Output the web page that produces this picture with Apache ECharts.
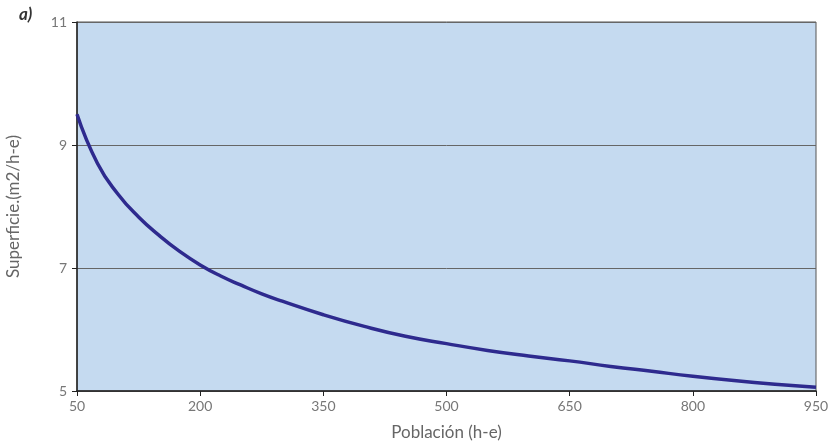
<!DOCTYPE html>
<html>
<head>
<meta charset="utf-8">
<script src="https://cdn.jsdelivr.net/npm/echarts@6/dist/echarts.min.js"></script>
<style>
html,body{margin:0;padding:0;background:#fff;}
#chart{width:831px;height:444px;}
</style>
</head>
<body>
<div id="chart"></div>
<script>
const poblacion = [50, 75, 100, 125, 150, 175, 200, 225, 250, 275, 300, 350, 400, 450, 500, 550, 600, 650, 700, 750, 800, 850, 900, 950];
const superficie = [9.5, 8.7, 8.2, 7.83, 7.53, 7.27, 7.05, 6.87, 6.72, 6.58, 6.46, 6.24, 6.05, 5.89, 5.77, 5.66, 5.57, 5.49, 5.40, 5.32, 5.24, 5.17, 5.11, 5.06];
const xTicks = [50, 200, 350, 500, 650, 800, 950];
const yTicks = [5, 7, 9, 11];

const chart = echarts.init(document.getElementById('chart'));
const labelFont = { color: '#777', fontFamily: 'Lato', fontSize: 14 };
chart.setOption({
  animation: false,
  backgroundColor: '#fff',
  title: {
    text: 'a)', left: 14, top: 1,
    textStyle: { fontSize: 17, fontStyle: 'italic', fontWeight: 'bold', color: '#333', fontFamily: 'Lato' }
  },
  grid: {
    left: 77, right: 15, top: 22, bottom: 53,
    outerBoundsMode: 'none', containLabel: false,
    show: true, backgroundColor: '#c5daf0', borderColor: '#555', borderWidth: 1
  },
  xAxis: {
    type: 'value', min: 50, max: 950,
    name: 'Población (h-e)', nameLocation: 'middle', nameGap: 33,
    nameTextStyle: { color: '#666', fontFamily: 'Lato', fontSize: 17 },
    axisLine: { lineStyle: { color: '#222', width: 1.5 } },
    axisTick: { show: true, length: 5, customValues: xTicks, lineStyle: { color: '#222' } },
    axisLabel: Object.assign({ customValues: xTicks, margin: 8 }, labelFont),
    splitLine: { show: false }
  },
  yAxis: {
    type: 'value', min: 5, max: 11,
    name: 'Superficie.(m2/h-e)', nameLocation: 'middle', nameGap: 55,
    nameTextStyle: { color: '#666', fontFamily: 'Lato', fontSize: 17 },
    axisLine: { show: true, lineStyle: { color: '#222', width: 1.5 } },
    axisTick: { show: true, length: 5, customValues: yTicks, lineStyle: { color: '#222' } },
    axisLabel: Object.assign({ customValues: yTicks, margin: 10 }, labelFont),
    splitLine: { show: true, lineStyle: { color: '#666', width: 1 } }
  },
  series: [{
    type: 'line',
    data: poblacion.map((p, i) => [p, superficie[i]]),
    smooth: true,
    showSymbol: false,
    lineStyle: { color: '#2e2a8e', width: 3.5 }
  }]
});
</script>
</body>
</html>
